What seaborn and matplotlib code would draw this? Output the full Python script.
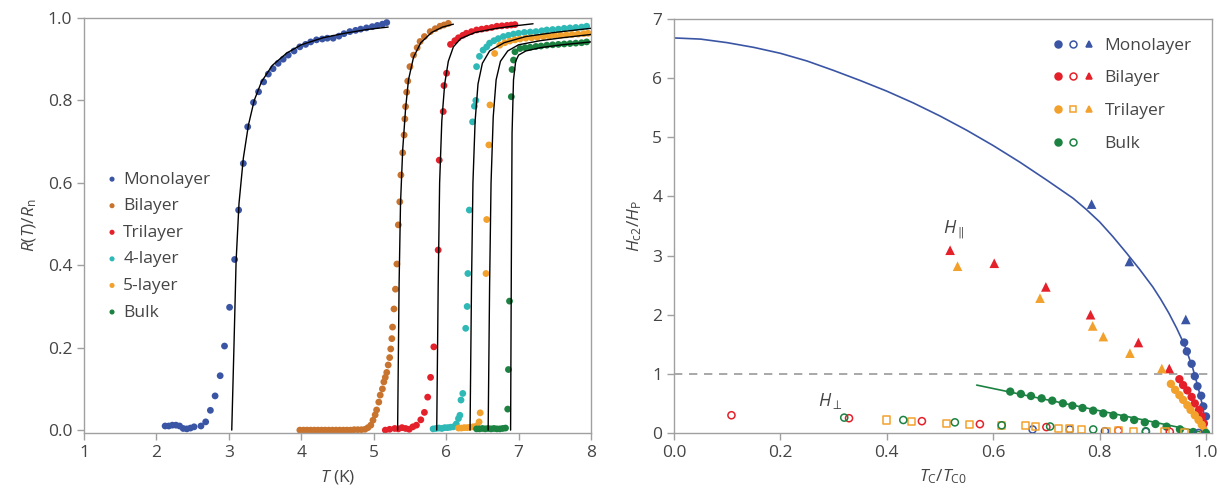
import numpy as np
import pandas as pd
import matplotlib
matplotlib.use('Agg')
import matplotlib.pyplot as plt
import seaborn as sns
from matplotlib.lines import Line2D
from matplotlib.legend_handler import HandlerTuple

# ---------- left panel : R(T)/Rn vs T ----------
mono_T = [2.12, 2.17, 2.22, 2.27, 2.32, 2.37, 2.42, 2.47, 2.52, 2.615, 2.68, 2.745, 2.81, 2.88, 2.94, 3.01, 3.08,
          3.135, 3.20, 3.26, 3.34, 3.41, 3.48, 3.545, 3.61, 3.68, 3.75, 3.82, 3.90, 3.98, 4.06, 4.13, 4.21, 4.29,
          4.36, 4.44, 4.52, 4.59, 4.67, 4.75, 4.82, 4.90, 4.98, 5.05, 5.12, 5.18]
mono_R = [0.01, 0.01, 0.012, 0.012, 0.01, 0.004, 0.003, 0.005, 0.008, 0.01, 0.02, 0.048, 0.083, 0.132, 0.204, 0.298,
          0.414, 0.534, 0.647, 0.736, 0.795, 0.821, 0.845, 0.864, 0.877, 0.89, 0.90, 0.91, 0.92, 0.93, 0.936, 0.942,
          0.947, 0.949, 0.951, 0.951, 0.956, 0.962, 0.967, 0.97, 0.973, 0.976, 0.979, 0.982, 0.985, 0.989]
bi_T = [3.98, 4.03, 4.08, 4.13, 4.18, 4.23, 4.28, 4.33, 4.38, 4.43, 4.48, 4.53, 4.58, 4.63, 4.68, 4.73, 4.78, 4.83,
        4.88, 4.92, 4.96, 4.99, 5.02, 5.04, 5.07, 5.09, 5.12, 5.14, 5.16, 5.18, 5.20, 5.22, 5.235, 5.25, 5.26, 5.28,
        5.30, 5.32, 5.34, 5.36, 5.375, 5.40, 5.42, 5.43, 5.44, 5.455, 5.47, 5.50, 5.55, 5.60, 5.64, 5.70, 5.78, 5.85,
        5.915, 5.97, 6.03]
bi_R = [0.0, 0.0, 0.0, 0.0, 0.0, 0.0, 0.0, 0.0, 0.0, 0.0, 0.0, 0.0, 0.0, 0.0, 0.0, 0.001, 0.001, 0.001,
        0.002, 0.006, 0.012, 0.024, 0.037, 0.049, 0.068, 0.085, 0.10, 0.117, 0.128, 0.14, 0.158, 0.176, 0.197, 0.222,
        0.25, 0.294, 0.342, 0.403, 0.498, 0.554, 0.619, 0.673, 0.716, 0.755, 0.785, 0.82, 0.847, 0.882, 0.91, 0.928,
        0.943, 0.955, 0.967, 0.974, 0.98, 0.983, 0.987]
tri_T = [5.16, 5.22, 5.29, 5.34, 5.39, 5.44, 5.49, 5.54, 5.59, 5.65, 5.70, 5.745, 5.785, 5.83, 5.89, 5.905, 5.96,
         5.97, 6.006, 6.06, 6.12, 6.17, 6.23, 6.28, 6.35, 6.42, 6.49, 6.56, 6.63, 6.70, 6.77, 6.84, 6.90, 6.95]
tri_R = [0.0, 0.002, 0.004, 0.003, 0.006, 0.004, 0.002, 0.008, 0.012, 0.025, 0.043, 0.08, 0.128, 0.202, 0.437,
         0.655, 0.773, 0.836, 0.866, 0.936, 0.945, 0.952, 0.958, 0.963, 0.967, 0.971, 0.973, 0.975, 0.977, 0.98,
         0.981, 0.982, 0.983, 0.984]
four_T = [5.82, 5.86, 5.90, 5.94, 5.98, 6.02, 6.06, 6.10, 6.14, 6.17, 6.19, 6.205, 6.23, 6.27, 6.29, 6.30, 6.32,
          6.365, 6.39, 6.41, 6.42, 6.46, 6.51, 6.56, 6.60, 6.66, 6.72, 6.79, 6.86, 6.93, 7.0, 7.08, 7.16, 7.24, 7.32,
          7.39, 7.47, 7.55, 7.63, 7.71, 7.79, 7.87, 7.94]
four_R = [0.003, 0.004, 0.005, 0.004, 0.006, 0.006, 0.007, 0.008, 0.015, 0.028, 0.036, 0.073, 0.089, 0.247, 0.30,
          0.38, 0.534, 0.748, 0.786, 0.80, 0.882, 0.907, 0.922, 0.93, 0.939, 0.945, 0.95, 0.955, 0.958, 0.961, 0.963,
          0.965, 0.966, 0.967, 0.969, 0.971, 0.972, 0.973, 0.975, 0.976, 0.977, 0.978, 0.98]
five_T = [6.17, 6.21, 6.25, 6.29, 6.33, 6.37, 6.42, 6.455, 6.47, 6.55, 6.56, 6.59, 6.605, 6.67, 6.74, 6.81, 6.88,
          6.95, 7.02, 7.1, 7.18, 7.26, 7.34, 7.42, 7.5, 7.58, 7.66, 7.74, 7.82, 7.9, 7.96]
five_R = [0.005, 0.005, 0.006, 0.006, 0.007, 0.008, 0.01, 0.02, 0.042, 0.38, 0.511, 0.692, 0.789, 0.914, 0.934,
          0.940, 0.944, 0.947, 0.949, 0.951, 0.952, 0.953, 0.955, 0.956, 0.957, 0.958, 0.959, 0.96, 0.961, 0.962, 0.963]
bulk_T = [6.42, 6.46, 6.50, 6.54, 6.58, 6.62, 6.66, 6.70, 6.74, 6.78, 6.82, 6.85, 6.86, 6.875, 6.90, 6.91, 6.93,
          6.95, 7.02, 7.09, 7.16, 7.24, 7.31, 7.39, 7.47, 7.55, 7.63, 7.71, 7.79, 7.87, 7.94]
bulk_R = [0.003, 0.003, 0.004, 0.003, 0.004, 0.003, 0.004, 0.003, 0.003, 0.004, 0.005, 0.051, 0.147, 0.313, 0.809,
          0.875, 0.898, 0.918, 0.926, 0.928, 0.929, 0.931, 0.932, 0.934, 0.935, 0.936, 0.937, 0.938, 0.939, 0.94, 0.942]

# fitted curves (black lines)
fit_mono_T = [3.04, 3.07, 3.10, 3.14, 3.2, 3.27, 3.35, 3.45, 3.6, 3.8, 4.0, 4.3, 4.6, 4.9, 5.2]
fit_mono_R = [0.0, 0.2, 0.41, 0.55, 0.66, 0.74, 0.80, 0.845, 0.885, 0.915, 0.935, 0.952, 0.963, 0.972, 0.978]
fit_bi_T = [5.33, 5.35, 5.37, 5.40, 5.44, 5.48, 5.55, 5.65, 5.8, 5.95, 6.10]
fit_bi_R = [0.0, 0.35, 0.55, 0.68, 0.78, 0.85, 0.905, 0.94, 0.965, 0.978, 0.985]
fit_tri_T = [5.87, 5.89, 5.91, 5.94, 5.98, 6.03, 6.1, 6.2, 6.4, 6.7, 7.0, 7.2]
fit_tri_R = [0.0, 0.35, 0.6, 0.75, 0.84, 0.895, 0.93, 0.95, 0.965, 0.975, 0.982, 0.986]
fit_four_T = [6.33, 6.35, 6.37, 6.40, 6.44, 6.5, 6.6, 6.8, 7.1, 7.5, 8.0]
fit_four_R = [0.0, 0.35, 0.6, 0.75, 0.84, 0.89, 0.92, 0.94, 0.955, 0.965, 0.975]
fit_five_T = [6.58, 6.60, 6.62, 6.65, 6.69, 6.75, 6.85, 7.0, 7.3, 7.6, 8.0]
fit_five_R = [0.0, 0.35, 0.6, 0.76, 0.85, 0.895, 0.92, 0.935, 0.945, 0.952, 0.96]
fit_bulk_T = [6.89, 6.90, 6.91, 6.93, 6.96, 7.0, 7.1, 7.3, 7.6, 8.0]
fit_bulk_R = [0.0, 0.4, 0.72, 0.85, 0.895, 0.91, 0.92, 0.928, 0.935, 0.942]

# ---------- right panel : Hc2/HP vs Tc/Tc0 ----------
mono_par_x = [0.959, 0.964, 0.973, 0.979, 0.984, 0.991, 0.995, 1.0]
mono_par_y = [1.53, 1.38, 1.17, 0.96, 0.79, 0.63, 0.45, 0.28]
bi_par_x = [0.95, 0.957, 0.965, 0.973, 0.979, 0.987, 0.992, 0.996]
bi_par_y = [0.91, 0.81, 0.72, 0.61, 0.50, 0.39, 0.28, 0.16]
tri_par_x = [0.934, 0.942, 0.95, 0.957, 0.965, 0.971, 0.979, 0.986, 0.992, 0.996]
tri_par_y = [0.83, 0.73, 0.64, 0.56, 0.47, 0.39, 0.30, 0.22, 0.14, 0.05]
bulk_par_x = [0.632, 0.652, 0.671, 0.691, 0.711, 0.731, 0.749, 0.768, 0.788, 0.807, 0.826, 0.846, 0.865, 0.885,
              0.905, 0.926, 0.951, 0.976, 1.0]
bulk_par_y = [0.70, 0.66, 0.626, 0.586, 0.547, 0.502, 0.462, 0.423, 0.378, 0.333, 0.299, 0.259, 0.220, 0.181,
              0.152, 0.107, 0.062, 0.017, 0.0]

mono_perp_x = [0.674, 0.744, 0.81, 0.887, 0.986]
mono_perp_y = [0.06, 0.06, 0.03, 0.02, 0.0]
bi_perp_x = [0.108, 0.329, 0.466, 0.575, 0.70, 0.835, 0.932]
bi_perp_y = [0.30, 0.25, 0.20, 0.15, 0.10, 0.04, 0.02]
tri_perp_x = [0.40, 0.447, 0.513, 0.556, 0.616, 0.66, 0.679, 0.722, 0.744, 0.766, 0.813, 0.835, 0.863, 0.923, 0.96]
tri_perp_y = [0.22, 0.20, 0.16, 0.15, 0.13, 0.12, 0.11, 0.07, 0.07, 0.06, 0.03, 0.04, 0.03, 0.02, 0.01]
bulk_perp_x = [0.320, 0.431, 0.528, 0.616, 0.707, 0.788, 0.887]
bulk_perp_y = [0.26, 0.22, 0.18, 0.13, 0.11, 0.06, 0.03]

mono_tri_x = [0.785, 0.856, 0.962]
mono_tri_y = [3.87, 2.90, 1.92]
bi_tri_x = [0.519, 0.602, 0.699, 0.783, 0.873, 0.931]
bi_tri_y = [3.09, 2.87, 2.47, 2.0, 1.53, 1.09]
tri_tri_x = [0.533, 0.688, 0.787, 0.807, 0.857, 0.917]
tri_tri_y = [2.82, 2.28, 1.81, 1.63, 1.35, 1.09]

mono_fit_x = [0.0, 0.05, 0.1, 0.15, 0.2, 0.25, 0.3, 0.35, 0.4, 0.45, 0.5, 0.55, 0.6, 0.65, 0.7, 0.75, 0.775, 0.8,
              0.825, 0.85, 0.875, 0.9, 0.915, 0.93, 0.945, 0.96, 0.975, 0.985, 0.993, 0.998, 1.0]
mono_fit_y = [6.68, 6.66, 6.60, 6.52, 6.42, 6.29, 6.13, 5.96, 5.78, 5.58, 5.36, 5.12, 4.86, 4.58, 4.28, 3.97, 3.78,
              3.57, 3.32, 3.05, 2.77, 2.47, 2.26, 2.03, 1.77, 1.48, 1.10, 0.78, 0.48, 0.22, 0.0]
bulk_fit_x = [0.569, 1.0]
bulk_fit_y = [0.81, 0.0]

C_MONO = '#3b55a5'
C_BI_L = '#c8742e'
C_RED = '#e4202a'
C_CYAN = '#2fb9b6'
C_ORANGE = '#f2a12c'
C_GREEN = '#1c8242'
TXT = '#454545'
SPINE = '#a0a0a0'

sns.set_theme(style='ticks')
plt.rcParams['font.family'] = ['Open Sans', 'DejaVu Sans']
plt.rcParams['mathtext.fontset'] = 'custom'
plt.rcParams['mathtext.rm'] = 'Open Sans'
plt.rcParams['mathtext.it'] = 'Open Sans:italic'
plt.rcParams['text.color'] = TXT
plt.rcParams['axes.labelcolor'] = TXT

fig = plt.figure(figsize=(12.2, 4.98), dpi=100)
ax1 = fig.add_axes([84 / 1220, 1 - 433 / 498, (591 - 84) / 1220, (433 - 18) / 498])
ax2 = fig.add_axes([674 / 1220, 1 - 433 / 498, (1212 - 674) / 1220, (433 - 19) / 498])

# left panel
series = [('Monolayer', mono_T, mono_R, C_MONO), ('Bilayer', bi_T, bi_R, C_BI_L),
          ('Trilayer', tri_T, tri_R, C_RED), ('4-layer', four_T, four_R, C_CYAN),
          ('5-layer', five_T, five_R, C_ORANGE), ('Bulk', bulk_T, bulk_R, C_GREEN)]
fits = [(fit_mono_T, fit_mono_R), (fit_bi_T, fit_bi_R), (fit_tri_T, fit_tri_R),
        (fit_four_T, fit_four_R), (fit_five_T, fit_five_R), (fit_bulk_T, fit_bulk_R)]
for name, T, R, c in series:
    sns.scatterplot(x=T, y=R, ax=ax1, color=c, s=24, edgecolor='none', label=name, zorder=2)
for T, R in fits:
    sns.lineplot(x=T, y=R, ax=ax1, color='black', lw=1.0, sort=False, estimator=None, zorder=3)

ax1.set_xlim(1, 8)
ax1.set_ylim(-0.007, 1.0)
ax1.set_xticks([1, 2, 3, 4, 5, 6, 7, 8])
ax1.set_yticks([0.0, 0.2, 0.4, 0.6, 0.8, 1.0])
ax1.set_yticklabels(['0.0', '0.2', '0.4', '0.6', '0.8', '1.0'])
ax1.set_xlabel(r'$T$ (K)', fontsize=12.5, labelpad=5)
ax1.set_ylabel(r'$R(T)/R_{\rm n}$', fontsize=12.5, labelpad=6)
ax1.legend(loc='upper left', bbox_to_anchor=(0.045, 0.63), frameon=False, fontsize=12.5,
           handlelength=0.6, handletextpad=0.35, labelspacing=0.6, markerscale=0.75, borderaxespad=0,
           borderpad=0)

# right panel
ax2.axhline(1.0, color='#999999', lw=1.2, ls=(0, (5, 4)), zorder=1)
sns.lineplot(x=mono_fit_x, y=mono_fit_y, ax=ax2, color=C_MONO, lw=1.2, sort=False, estimator=None, zorder=2)
sns.lineplot(x=bulk_fit_x, y=bulk_fit_y, ax=ax2, color=C_GREEN, lw=1.2, sort=False, estimator=None, zorder=2)

for x, y, c in [(mono_par_x, mono_par_y, C_MONO), (bi_par_x, bi_par_y, C_RED),
                (tri_par_x, tri_par_y, C_ORANGE), (bulk_par_x, bulk_par_y, C_GREEN)]:
    sns.scatterplot(x=x, y=y, ax=ax2, color=c, s=36, edgecolor='none', zorder=3)
for x, y, c, m in [(mono_perp_x, mono_perp_y, C_MONO, 'o'), (bi_perp_x, bi_perp_y, C_RED, 'o'),
                   (tri_perp_x, tri_perp_y, C_ORANGE, 's'), (bulk_perp_x, bulk_perp_y, C_GREEN, 'o')]:
    sns.scatterplot(x=x, y=y, ax=ax2, color=c, marker=m, s=26, facecolor='none', edgecolor=c,
                    linewidth=1.1, zorder=3)
for x, y, c in [(mono_tri_x, mono_tri_y, C_MONO), (bi_tri_x, bi_tri_y, C_RED), (tri_tri_x, tri_tri_y, C_ORANGE)]:
    sns.scatterplot(x=x, y=y, ax=ax2, color=c, marker='^', s=48, edgecolor='none', zorder=3)

ax2.text(0.525, 3.25, r'$H_{\parallel}$', fontsize=13, color=TXT, ha='center', va='bottom')
ax2.text(0.293, 0.38, r'$H_{\perp}$', fontsize=13, color=TXT, ha='center', va='bottom')

ax2.set_xlim(0, 1.0113)
ax2.set_ylim(0, 7)
ax2.set_xticks([0.0, 0.2, 0.4, 0.6, 0.8, 1.0])
ax2.set_xticklabels(['0.0', '0.2', '0.4', '0.6', '0.8', '1.0'])
ax2.set_yticks(range(0, 8))
ax2.set_xlabel(r'$T_{\rm C}/T_{\rm C0}$', fontsize=12.5, labelpad=5)
ax2.set_ylabel(r'$H_{\rm c2}/H_{\rm P}$', fontsize=12.5, labelpad=6)

def mk(c, m, fill=True, vis=True):
    return Line2D([], [], ls='none', marker=m, markersize=5 if m != 's' else 4.6,
                  markerfacecolor=c if fill else 'none', markeredgecolor=c,
                  markeredgewidth=1.1, alpha=1 if vis else 0)

handles = [(mk(C_MONO, 'o'), mk(C_MONO, 'o', False), mk(C_MONO, '^')),
           (mk(C_RED, 'o'), mk(C_RED, 'o', False), mk(C_RED, '^')),
           (mk(C_ORANGE, 'o'), mk(C_ORANGE, 's', False), mk(C_ORANGE, '^')),
           (mk(C_GREEN, 'o'), mk(C_GREEN, 'o', False), mk(C_GREEN, '^', vis=False))]
ax2.legend(handles, ['Monolayer', 'Bilayer', 'Trilayer', 'Bulk'],
           handler_map={tuple: HandlerTuple(ndivide=None, pad=0.1)},
           loc='upper left', bbox_to_anchor=(0.70, 0.955), frameon=False, fontsize=12.5,
           handlelength=2.6, handletextpad=0.5, labelspacing=0.95, borderaxespad=0, borderpad=0)

for ax in (ax1, ax2):
    for s in ax.spines.values():
        s.set_color(SPINE)
        s.set_linewidth(1.0)
    ax.tick_params(axis='both', colors=SPINE, labelcolor=TXT, labelsize=12.5, length=5, width=1.0,
                   direction='out', top=False, right=False)

fig.savefig('out.png', dpi=100)
